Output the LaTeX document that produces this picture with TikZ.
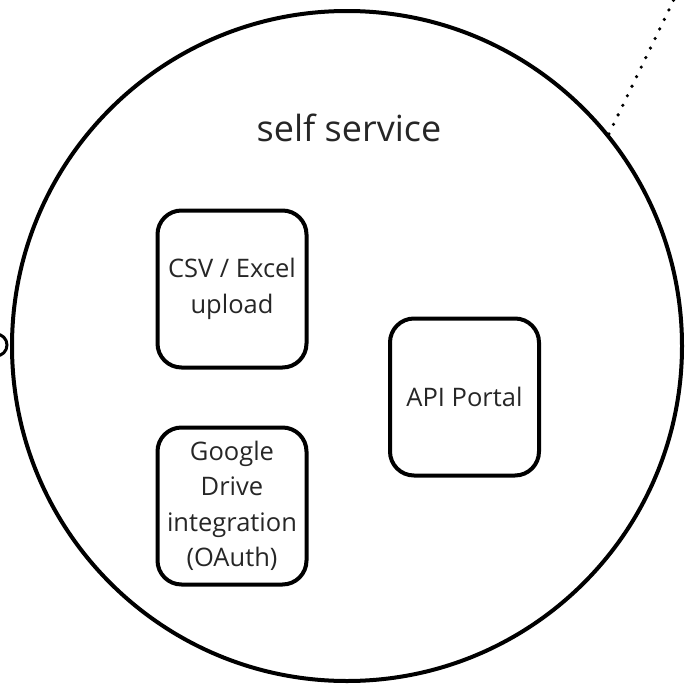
\documentclass[tikz,border=0pt]{standalone}
\usepackage{fontspec}
\setmainfont{Open Sans}
\begin{document}
\begin{tikzpicture}[x=1pt,y=-1pt,
  boxst/.style={draw, line width=4pt, rounded corners=24pt, minimum width=149pt, minimum height=157pt, align=center, font=\fontsize{25.5}{35.5}\selectfont, text=black!85, inner sep=0pt},
  ringst/.style={draw, circle, line width=4pt, inner sep=0pt},
  dotst/.style={line width=3.6pt, line cap=round, dash pattern=on 0pt off 10.6pt}]
\useasboundingbox (0,0) rectangle (686,688);
\clip (0,0) rectangle (686,688);
\node[ringst, minimum size=670pt] (big) at (347,346) {};
\node[font=\fontsize{36}{42}\selectfont, text=black!85] (title) at (349,128) {self service};
\node[boxst] (csv) at (232,289) {CSV / Excel\\upload};
\node[boxst] (gd) at (232,506) {Google\\Drive\\integration\\(OAuth)};
\node[boxst] (api) at (464.5,397) {API Portal};
\node[ringst, minimum size=22pt, line width=3pt] (port) at (-4,345) {};
\coordinate (far) at (710,-75);
\draw[dotst] (big.39.5) -- (far);
\end{tikzpicture}
\end{document}
